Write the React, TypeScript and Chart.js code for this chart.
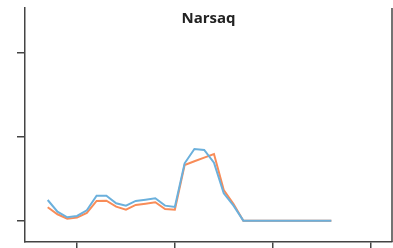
import React, { useEffect, useRef } from "react";
import { Chart, registerables } from "chart.js";

Chart.register(...registerables);

const title = "Narsaq";
const xValues = [0,1,2,3,4,5,6,7,8,9,10,11,12,13,14,15,16,17,18,19,20,21,22,23,24,25,26,27,28,29];
const blueSeries = [0.246,0.107,0.040,0.056,0.124,0.298,0.298,0.207,0.179,0.235,0.250,0.267,0.179,0.163,0.683,0.854,0.842,0.690,0.326,0.179,0,0,0,0,0,0,0,0,0,0];
const orangeSeries = [0.160,0.076,0.024,0.036,0.092,0.235,0.238,0.167,0.131,0.187,0.202,0.219,0.139,0.131,0.663,0.707,0.750,0.794,0.365,0.199,0,0,0,0,0,0,0,0,0,0];
const xTicks = [3, 13, 23, 33];
const yTicks = [0, 1, 2];

const AXIS = "#444";

export default function App() {
  const ref = useRef<HTMLCanvasElement | null>(null);
  useEffect(() => {
    const canvas = ref.current;
    if (!canvas) return;
    const decor = {
      id: "decor",
      afterDraw(chart: any) {
        const { ctx, chartArea } = chart;
        ctx.save();
        ctx.strokeStyle = AXIS;
        ctx.lineWidth = 1.5;
        ctx.beginPath();
        ctx.moveTo(chartArea.right, chartArea.top);
        ctx.lineTo(chartArea.right, chartArea.bottom);
        ctx.stroke();
        ctx.fillStyle = "#222";
        ctx.font = "bold 15px 'Open Sans'";
        ctx.textAlign = "center";
        ctx.textBaseline = "alphabetic";
        ctx.fillText(title, (chartArea.left + chartArea.right) / 2, 23);
        ctx.restore();
      },
    };
    const chart = new Chart(canvas, {
      type: "line",
      data: {
        datasets: [
          {
            data: xValues.map((x, i) => ({ x, y: blueSeries[i] })),
            borderColor: "#6bb0dc",
            borderWidth: 2,
            pointRadius: 0,
            tension: 0,
            fill: false,
          },
          {
            data: xValues.map((x, i) => ({ x, y: orangeSeries[i] })),
            borderColor: "#f88c58",
            borderWidth: 2,
            pointRadius: 0,
            tension: 0,
            fill: false,
          },
        ],
      },
      options: {
        animation: false,
        responsive: false,
        maintainAspectRatio: false,
        layout: { padding: { left: 17, top: 8, right: 1, bottom: 0 } },
        plugins: { legend: { display: false }, tooltip: { enabled: false }, title: { display: false } },
        scales: {
          x: {
            type: "linear",
            min: -2.32,
            max: 35.2,
            afterBuildTicks: (s: any) => { s.ticks = xTicks.map((v) => ({ value: v })); },
            ticks: { display: false },
            grid: { display: true, drawOnChartArea: false, drawTicks: true, tickLength: 6, color: AXIS, lineWidth: 1.5 },
            border: { display: true, color: AXIS, width: 1.5 },
          },
          y: {
            type: "linear",
            min: -0.254,
            max: 2.532,
            afterBuildTicks: (s: any) => { s.ticks = yTicks.map((v) => ({ value: v })); },
            ticks: { display: false },
            grid: { display: true, drawOnChartArea: false, drawTicks: true, tickLength: 8, color: AXIS, lineWidth: 1.5 },
            border: { display: true, color: AXIS, width: 1.5 },
          },
        },
      },
      plugins: [decor],
    });
    return () => chart.destroy();
  }, []);
  return (
    <div style={{ position: "fixed", left: 0, top: 0, width: 393, height: 248, background: "#fff" }}>
      <canvas ref={ref} width={393} height={248} style={{ display: "block" }} />
    </div>
  );
}
